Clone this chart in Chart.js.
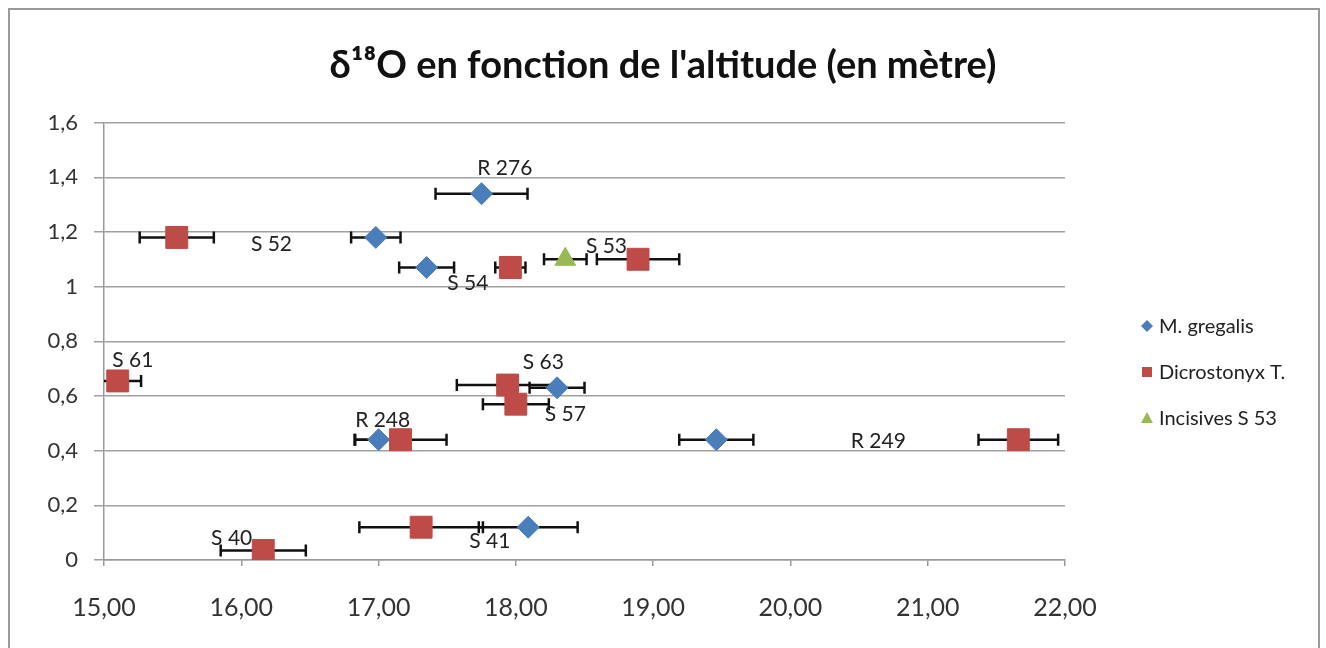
<!DOCTYPE html>
<html>
<head>
<meta charset="utf-8">
<script src="https://cdn.jsdelivr.net/npm/chart.js@4.4.0/dist/chart.umd.min.js"></script>
<style>
  body { margin: 0; background: #fff; }
  #frame { position: absolute; left: 8px; top: 8px; width: 1308px; height: 660px; border: 2px solid #9a9a9a; }
  #wrap { position: absolute; left: 0; top: 0; width: 1326px; height: 648px; }
</style>
</head>
<body>
<div id="frame"></div>
<div id="wrap"><canvas id="chart"></canvas></div>
<script>
// Series values
const seriesNames = ["M. gregalis", "Dicrostonyx T.", "Incisives S 53"];

const gregalisX = [17.75, 16.98, 17.35, 18.30, 17.00, 19.46, 18.09];
const gregalisY = [1.34, 1.18, 1.07, 0.63, 0.44, 0.44, 0.12];
const gregalisErr = [0.335, 0.18, 0.20, 0.20, 0.17, 0.27, 0.36];

const dicroX = [15.53, 17.96, 18.89, 15.10, 17.94, 18.00, 17.16, 21.66, 17.31, 16.16];
const dicroY = [1.18, 1.07, 1.10, 0.655, 0.64, 0.57, 0.44, 0.44, 0.12, 0.035];
const dicroErr = [0.27, 0.11, 0.30, 0.17, 0.37, 0.24, 0.335, 0.29, 0.45, 0.31];

const incisivesX = [18.36];
const incisivesY = [1.10];
const incisivesErr = [0.155];

// Sample labels and where they sit (data coordinates)
const sampleLabels = ["R 276", "S 52", "S 53", "S 54", "S 61", "S 63", "S 57", "R 248", "R 249", "S 40", "S 41"];
const sampleLabelX = [17.92, 16.22, 18.66, 17.65, 15.21, 18.20, 18.36, 17.03, 20.64, 15.93, 17.81];
const sampleLabelY = [1.432, 1.155, 1.146, 1.014, 0.732, 0.725, 0.535, 0.513, 0.436, 0.08, 0.07];

const xTicks = [15, 16, 17, 18, 19, 20, 21, 22];

const COLORS = ["#4a7ebb", "#be4b48", "#98b954"];
const FONT = "Lato, 'Open Sans', sans-serif";

function toPoints(xs, ys) {
  return xs.map((x, i) => ({ x: x, y: ys[i] }));
}

const errorSets = [gregalisErr, dicroErr, incisivesErr];

// Horizontal error bars, drawn under the markers
const errorBarPlugin = {
  id: "errorBars",
  beforeDatasetsDraw(chart) {
    const ctx = chart.ctx;
    const xs = chart.scales.x, ys = chart.scales.y;
    const area = chart.chartArea;
    ctx.save();
    ctx.beginPath();
    ctx.rect(area.left, area.top - 20, area.right - area.left, area.bottom - area.top + 40);
    ctx.clip();
    ctx.strokeStyle = "#111";
    ctx.lineWidth = 2.5;
    chart.data.datasets.forEach((ds, i) => {
      const errs = errorSets[i];
      ds.data.forEach((p, j) => {
        const y = ys.getPixelForValue(p.y);
        const x1 = xs.getPixelForValue(p.x - errs[j]);
        const x2 = xs.getPixelForValue(p.x + errs[j]);
        ctx.beginPath();
        ctx.moveTo(x1, y); ctx.lineTo(x2, y);
        ctx.moveTo(x1, y - 6); ctx.lineTo(x1, y + 6);
        ctx.moveTo(x2, y - 6); ctx.lineTo(x2, y + 6);
        ctx.stroke();
      });
    });
    ctx.restore();
  }
};

// Sample names next to the points
const sampleLabelPlugin = {
  id: "sampleLabels",
  afterDatasetsDraw(chart) {
    const ctx = chart.ctx;
    const xs = chart.scales.x, ys = chart.scales.y;
    ctx.save();
    ctx.font = "21px " + FONT;
    ctx.fillStyle = "#222";
    ctx.textAlign = "center";
    ctx.textBaseline = "middle";
    sampleLabels.forEach((t, i) => {
      ctx.fillText(t, xs.getPixelForValue(sampleLabelX[i]), ys.getPixelForValue(sampleLabelY[i]));
    });
    ctx.restore();
  }
};

// Legend on the right, Excel style
const sideLegendPlugin = {
  id: "sideLegend",
  afterDraw(chart) {
    const ctx = chart.ctx;
    const x0 = 1147, y0 = 326, step = 46;
    ctx.save();
    ctx.font = "20px " + FONT;
    ctx.textBaseline = "middle";
    ctx.textAlign = "left";
    seriesNames.forEach((name, i) => {
      const y = y0 + i * step;
      ctx.fillStyle = COLORS[i];
      ctx.beginPath();
      if (i === 0) {
        ctx.moveTo(x0, y - 6); ctx.lineTo(x0 + 6, y); ctx.lineTo(x0, y + 6); ctx.lineTo(x0 - 6, y);
      } else if (i === 1) {
        ctx.rect(x0 - 5, y - 5, 10, 10);
      } else {
        ctx.moveTo(x0, y - 6); ctx.lineTo(x0 + 6, y + 5); ctx.lineTo(x0 - 6, y + 5);
      }
      ctx.closePath();
      ctx.fill();
      ctx.fillStyle = "#222";
      ctx.fillText(name, x0 + 12, y + 1);
    });
    ctx.restore();
  }
};

new Chart(document.getElementById("chart"), {
  type: "scatter",
  data: {
    datasets: [
      {
        label: seriesNames[0],
        data: toPoints(gregalisX, gregalisY),
        pointStyle: "rectRot",
        pointRadius: 11,
        backgroundColor: COLORS[0],
        borderColor: COLORS[0],
        borderWidth: 1,
      },
      {
        label: seriesNames[1],
        data: toPoints(dicroX, dicroY),
        pointStyle: "rect",
        pointRadius: 15.5,
        backgroundColor: COLORS[1],
        borderColor: COLORS[1],
        borderWidth: 1,
      },
      {
        label: seriesNames[2],
        data: toPoints(incisivesX, incisivesY),
        pointStyle: "triangle",
        pointRadius: 12,
        backgroundColor: COLORS[2],
        borderColor: COLORS[2],
        borderWidth: 1,
      },
    ],
  },
  options: {
    responsive: true,
    maintainAspectRatio: false,
    animation: false,
    layout: {
      padding: 0,
    },
    plugins: {
      legend: { display: false },
      tooltip: { enabled: false },
      title: {
        display: true,
        text: "δ¹⁸O en fonction de l'altitude (en mètre)",
        color: "#111",
        font: { family: FONT, size: 38, weight: "bold" },
        padding: { top: 43, bottom: 34 },
      },
    },
    scales: {
      x: {
        type: "linear",
        min: 15,
        max: 22,
        afterBuildTicks(scale) {
          scale.ticks = xTicks.map((v) => ({ value: v }));
        },
        afterFit(scale) {
          scale.height = 88;
        },
        grid: {
          drawOnChartArea: false,
          drawTicks: true,
          tickLength: 6,
          color: "#999",
          lineWidth: 1.5,
        },
        border: { color: "#999", width: 1.5 },
        ticks: {
          padding: 27,
          color: "#333",
          font: { family: FONT, size: 25 },
          callback: (v) => Number(v).toFixed(2).replace(".", ","),
        },
      },
      y: {
        min: 0,
        max: 1.6,
        afterFit(scale) {
          scale.width = 104;
        },
        ticks: {
          stepSize: 0.2,
          padding: 16,
          color: "#333",
          font: { family: FONT, size: 22 },
          callback: (v) => String(Math.round(v * 10) / 10).replace(".", ","),
        },
        grid: {
          color: "#a0a0a0",
          lineWidth: 1.5,
          tickLength: 10,
        },
        border: { color: "#999", width: 1.5 },
      },
      // empty right-hand axis that reserves the legend column
      side: {
        type: "linear",
        position: "right",
        afterFit(scale) {
          scale.width = 261;
        },
        grid: { display: false, drawTicks: false },
        border: { display: false },
        ticks: { display: false },
      },
    },
  },
  plugins: [errorBarPlugin, sampleLabelPlugin, sideLegendPlugin],
});
</script>
</body>
</html>
